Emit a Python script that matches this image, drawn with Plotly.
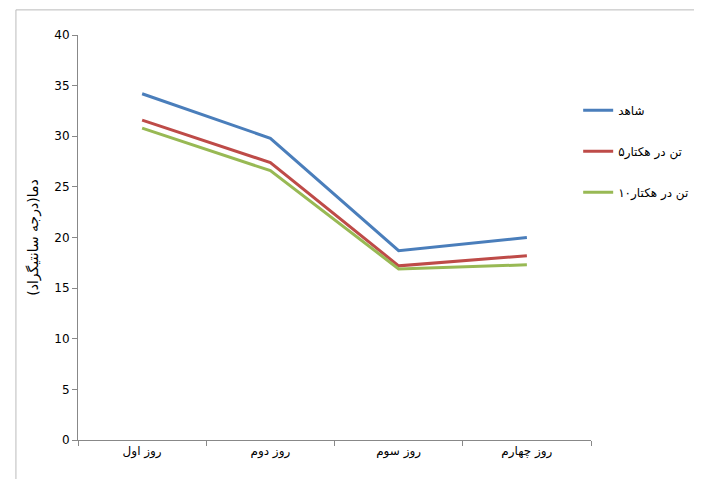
import plotly.graph_objects as go

days = ['روز اول', 'روز دوم', 'روز سوم', 'روز چهارم']
control = [34.2, 29.8, 18.7, 20.0]
five_t = [31.6, 27.4, 17.2, 18.2]
ten_t = [30.8, 26.6, 16.9, 17.3]

names = ['شاهد', '۵تن در هکتار', '۱۰تن در هکتار']
colors = ['#4a7ebb', '#be4b48', '#98b954']

fig = go.Figure()
for i, (name, vals, col) in enumerate(zip(names, [control, five_t, ten_t], colors)):
    fig.add_trace(go.Scatter(x=days, y=vals, mode='lines', name=name,
                             legendgroup=str(i),
                             line=dict(color=col, width=3)))

fig.update_layout(
    width=702, height=479,
    paper_bgcolor='white', plot_bgcolor='white',
    margin=dict(l=70, r=119, t=27, b=47),
    font=dict(family='DejaVu Sans', size=12, color='black'),
    legend=dict(x=0.975, y=0.85, xanchor='left', yanchor='top',
                font=dict(size=12), tracegroupgap=22),
    shapes=[dict(type='rect', xref='paper', yref='paper', x0=-0.121, x1=1.224,
                 y0=-0.101, y1=1.062, line=dict(color='#bbbbbb', width=1))],
)
fig.update_xaxes(showline=True, linecolor='#888888', ticks='outside',
                 tickcolor='#888888', ticklen=5, showgrid=False,
                 tickson='boundaries', range=[-0.5, 3.5])
fig.update_yaxes(range=[0, 40], dtick=5, showline=True, linecolor='#888888',
                 ticks='outside', tickcolor='#888888', ticklen=5, showgrid=False,
                 zeroline=False, title=dict(text='دما(درجه سانتیگراد)', standoff=12))

fig.write_html("out.html")
